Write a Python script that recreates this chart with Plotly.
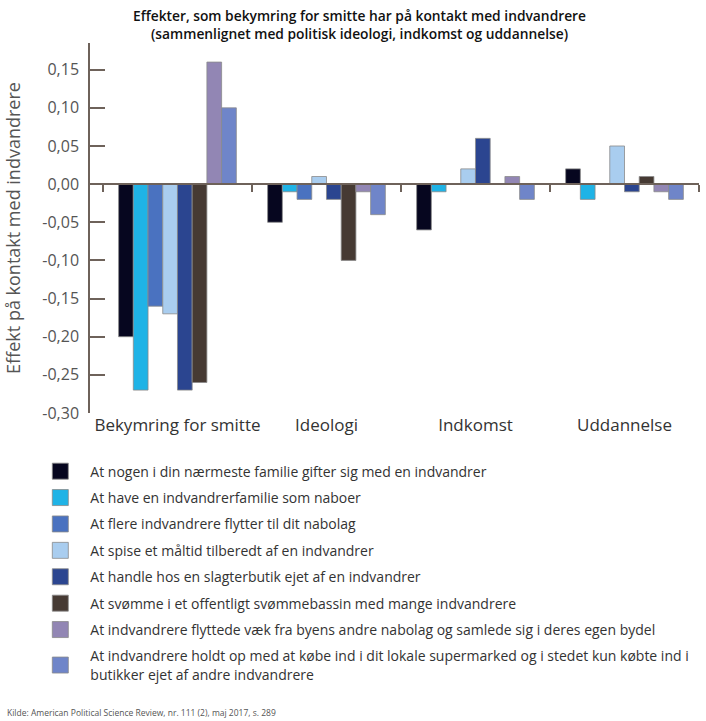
import plotly.graph_objects as go

categories = ["Bekymring for smitte", "Ideologi", "Indkomst", "Uddannelse"]
cat_pos = [0, 1, 2, 3]

series_names = [
    "At nogen i din nærmeste familie gifter sig med en indvandrer",
    "At have en indvandrerfamilie som naboer",
    "At flere indvandrere flytter til dit nabolag",
    "At spise et måltid tilberedt af en indvandrer",
    "At handle hos en slagterbutik ejet af en indvandrer",
    "At svømme i et offentligt svømmebassin med mange indvandrere",
    "At indvandrere flyttede væk fra byens andre nabolag og samlede sig i deres egen bydel",
    "At indvandrere holdt op med at købe ind i dit lokale supermarked og i stedet kun købte ind i<br>butikker ejet af andre indvandrere",
]

s1 = [-0.20, -0.05, -0.06, 0.02]
s2 = [-0.27, -0.01, -0.01, -0.02]
s3 = [-0.16, -0.02, 0.00, 0.00]
s4 = [-0.17, 0.01, 0.02, 0.05]
s5 = [-0.27, -0.02, 0.06, -0.01]
s6 = [-0.26, -0.10, 0.00, 0.01]
s7 = [0.16, -0.01, 0.01, -0.01]
s8 = [0.10, -0.04, -0.02, -0.02]
series_values = [s1, s2, s3, s4, s5, s6, s7, s8]

colors = ["#06061f", "#1fb3e6", "#4a72c0", "#a9cdef", "#2b4590", "#463a33", "#9286b4", "#6f85c9"]

y_tickvals = [0.15, 0.10, 0.05, 0.00, -0.05, -0.10, -0.15, -0.20, -0.25, -0.30]
y_ticktext = ["0,15", "0,10", "0,05", "0,00", "-0,05", "-0,10", "-0,15", "-0,20", "-0,25", "-0,30"]
boundaries = [-0.5, 0.5, 1.5, 2.5, 3.5]

title_text = ("Effekter, som bekymring for smitte har på kontakt med indvandrere<br>"
              "(sammenlignet med politisk ideologi, indkomst og uddannelse)")
source_text = "Kilde: American Political Science Review, nr. 111 (2), maj 2017, s. 289"

FONT = "Open Sans"
AXC = "#6e625a"
OUTLINE = "#8a8a8a"
Y_RANGE = [-0.30, 0.185]

fig = go.Figure()
for i, (name, vals, col) in enumerate(zip(series_names, series_values, colors)):
    fig.add_trace(go.Bar(
        x=cat_pos, y=vals, name=name,
        marker=dict(color=col, line=dict(color=OUTLINE, width=0.8)),
        legendgroup=f"g{i}", showlegend=False,
    ))
    # legend entry with a larger square swatch (no data drawn)
    fig.add_trace(go.Scatter(
        x=[None], y=[None], name=name, mode="markers",
        marker=dict(symbol="square", size=16, color=col, line=dict(color=OUTLINE, width=0.8)),
        legendgroup=f"g{i}", showlegend=True, hoverinfo="skip",
    ))

# invisible helper trace so the zero-line axis is drawn
fig.add_trace(go.Scatter(x=[None], y=[None], xaxis="x2", showlegend=False, hoverinfo="skip"))

zero_frac = (0 - Y_RANGE[0]) / (Y_RANGE[1] - Y_RANGE[0])

fig.update_layout(
    width=706, height=721,
    margin=dict(l=90, r=7, t=43, b=308),
    paper_bgcolor="white", plot_bgcolor="white",
    font=dict(family=FONT, color="#444"),
    barmode="group", bargap=0.21, bargroupgap=0.0,
    xaxis=dict(
        range=[-0.587, 3.5], tickvals=cat_pos, ticktext=categories,
        showline=False, showgrid=False, zeroline=False, ticks="",
        tickfont=dict(size=17, color="#333"),
    ),
    xaxis2=dict(
        overlaying="x", matches="x", anchor="free", position=zero_frac, side="bottom",
        showline=True, linecolor=AXC, linewidth=1.5,
        ticks="outside", tickvals=boundaries, ticklen=7, tickcolor=AXC, tickwidth=1.5,
        showticklabels=False, showgrid=False, zeroline=False,
    ),
    yaxis=dict(
        range=Y_RANGE, tickvals=y_tickvals, ticktext=y_ticktext,
        showline=True, linecolor=AXC, linewidth=1.5,
        ticks="inside", ticklen=15, tickcolor=AXC, tickwidth=1.5,
        showgrid=False, zeroline=False,
        tickfont=dict(size=16, color="#555"), ticklabelstandoff=6,
        title=dict(text="Effekt på kontakt med indvandrere", font=dict(size=18, color="#555"), standoff=17),
    ),
    legend=dict(
        x=-0.098, xanchor="left", y=-0.115, yanchor="top",
        font=dict(size=14, color="#333"), tracegroupgap=5.2,
        itemsizing="trace", itemwidth=50,
        bgcolor="rgba(0,0,0,0)", traceorder="grouped",
    ),
    annotations=[
        dict(
            text=title_text, xref="paper", yref="paper", x=0.442, y=1.105,
            xanchor="center", yanchor="top", showarrow=False,
            font=dict(family=FONT, size=13.8, color="#111", weight=600),
        ),
        dict(
            text=source_text, xref="paper", yref="paper", x=-0.14, y=-0.81,
            xanchor="left", yanchor="middle", showarrow=False,
            font=dict(size=8.5, color="#555"),
        ),
    ],
)

fig.write_html("out.html", config={"displayModeBar": False},
               post_script="document.body.style.margin='0';")
